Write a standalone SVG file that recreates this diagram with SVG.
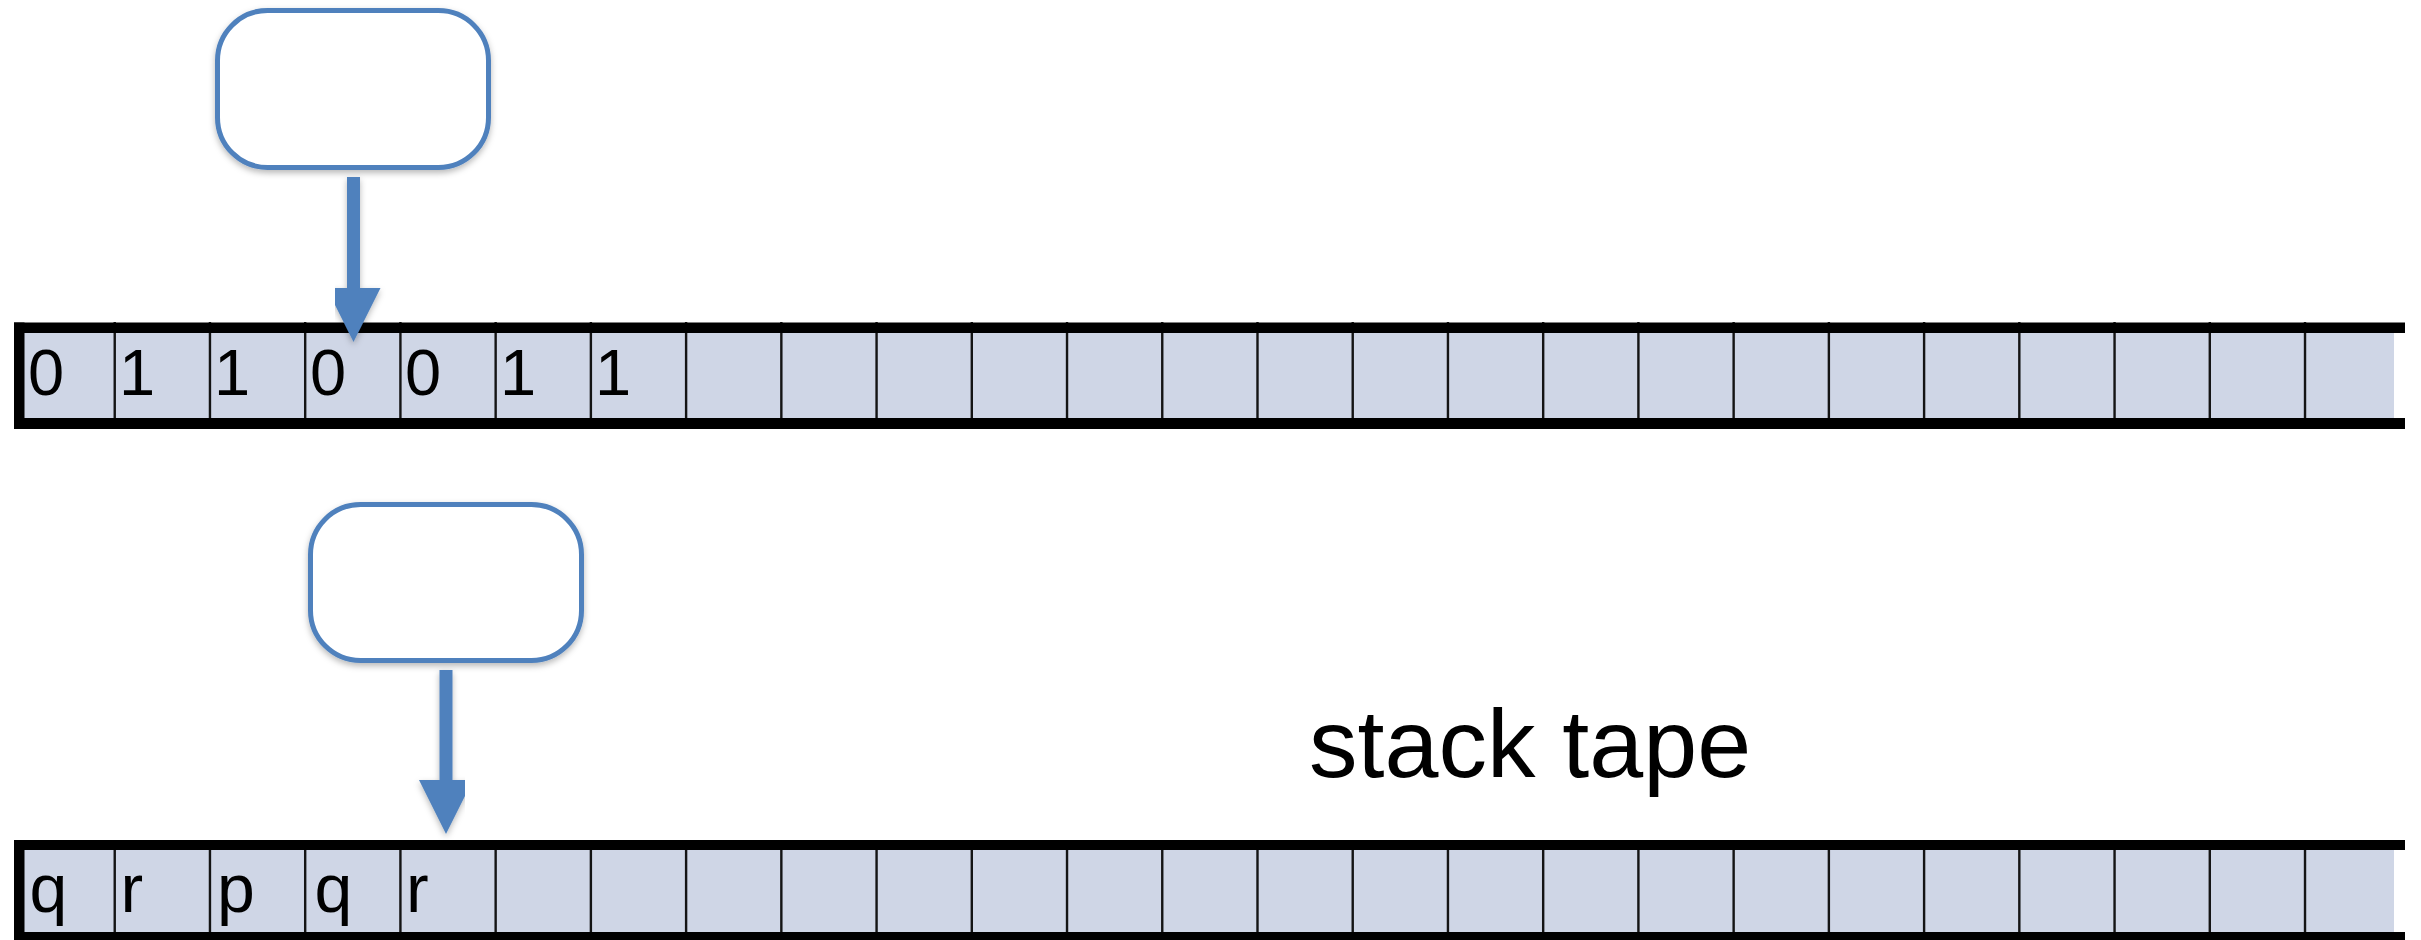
<svg xmlns="http://www.w3.org/2000/svg" width="2421" height="940" viewBox="0 0 2421 940">
  <style>
    .cell-fill { fill: #CFD6E6; }
    .divider { stroke: #141414; stroke-width: 2.4; fill: none; }
    .rail { fill: #000000; }
    .sym { font-family: "Liberation Sans", Arial, sans-serif; fill: #000000; }
    .digit { font-size: 65px; }
    .letter { font-size: 68px; }
    .label { font-family: "Liberation Sans", Arial, sans-serif; font-size: 97px; fill: #000000; }
    .head { fill: #FFFFFF; stroke: #4F81BD; stroke-width: 5; }
    .conn { stroke: #4F81BD; stroke-width: 13; fill: none; }
  </style>
  <defs>
    <filter id="shadow" x="-20%" y="-20%" width="140%" height="140%">
      <feDropShadow dx="0" dy="3" stdDeviation="3" flood-color="#000000" flood-opacity="0.28"/>
    </filter>
    <marker id="arrowhead" markerUnits="userSpaceOnUse" markerWidth="54" markerHeight="54" viewBox="0 0 54 54" refX="1" refY="27" orient="auto">
      <path d="M0,0 L54,27 L0,54 Z" fill="#4F81BD"/>
    </marker>
  </defs>

  <!-- input tape -->
  <g id="input-tape">
    <rect class="cell-fill" x="20" y="328" width="2374" height="95"/>
    <path class="divider" d="M114.73,322V429 M209.96,322V429 M305.19,322V429 M400.42,322V429 M495.65,322V429 M590.88,322V429 M686.11,322V429 M781.34,322V429 M876.57,322V429 M971.8,322V429 M1067.03,322V429 M1162.26,322V429 M1257.49,322V429 M1352.72,322V429 M1447.95,322V429 M1543.18,322V429 M1638.41,322V429 M1733.64,322V429 M1828.87,322V429 M1924.1,322V429 M2019.33,322V429 M2114.56,322V429 M2209.79,322V429 M2305.02,322V429"/>
    <rect class="rail" x="14" y="322.5" width="2391" height="10.5"/>
    <rect class="rail" x="14" y="418" width="2391" height="11"/>
    <rect class="rail" x="14" y="322.5" width="10.5" height="106.5"/>
    <text class="sym digit" x="28" y="395">0</text>
    <text class="sym digit" x="119" y="395">1</text>
    <text class="sym digit" x="214" y="395">1</text>
    <text class="sym digit" x="310" y="395">0</text>
    <text class="sym digit" x="405" y="395">0</text>
    <text class="sym digit" x="500" y="395">1</text>
    <text class="sym digit" x="595" y="395">1</text>
  </g>

  <!-- stack tape -->
  <g id="stack-tape">
    <rect class="cell-fill" x="20" y="845" width="2374" height="92"/>
    <path class="divider" d="M114.73,840V940 M209.96,840V940 M305.19,840V940 M400.42,840V940 M495.65,840V940 M590.88,840V940 M686.11,840V940 M781.34,840V940 M876.57,840V940 M971.8,840V940 M1067.03,840V940 M1162.26,840V940 M1257.49,840V940 M1352.72,840V940 M1447.95,840V940 M1543.18,840V940 M1638.41,840V940 M1733.64,840V940 M1828.87,840V940 M1924.1,840V940 M2019.33,840V940 M2114.56,840V940 M2209.79,840V940 M2305.02,840V940"/>
    <rect class="rail" x="14" y="840" width="2391" height="10"/>
    <rect class="rail" x="14" y="932" width="2391" height="10"/>
    <rect class="rail" x="14" y="840" width="10.5" height="102"/>
    <text class="sym letter" x="29.5" y="912">q</text>
    <text class="sym letter" x="120.5" y="912">r</text>
    <text class="sym letter" x="217" y="912">p</text>
    <text class="sym letter" x="314.5" y="912">q</text>
    <text class="sym letter" x="406" y="912">r</text>
  </g>

  <g id="stack-tape-label">
    <text class="label" x="1309" y="777">stack tape</text>
  </g>

  <!-- heads (finite controls) -->
  <g id="input-head" filter="url(#shadow)">
    <rect class="head" x="217.5" y="10.5" width="271" height="157" rx="50" ry="50"/>
  </g>
  <g id="stack-head" filter="url(#shadow)">
    <rect class="head" x="310.5" y="504.5" width="271" height="156" rx="50" ry="50"/>
  </g>

  <!-- connectors -->
  <g id="connectors" filter="url(#shadow)">
    <line class="conn" x1="353.5" y1="177" x2="353.5" y2="289" marker-end="url(#arrowhead)"/>
    <line class="conn" x1="446" y1="670" x2="446" y2="781" marker-end="url(#arrowhead)"/>
  </g>
</svg>
